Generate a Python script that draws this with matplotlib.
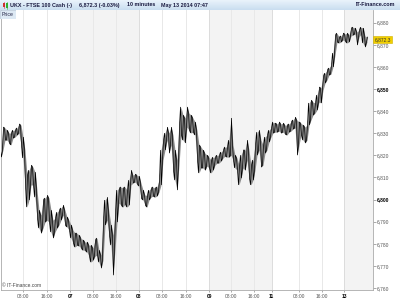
import numpy as np
import matplotlib
matplotlib.use("Agg")
import matplotlib.pyplot as plt
from matplotlib.patches import Rectangle

# ~40-minute bars (high / low)
highs = [6822.4, 6832.8, 6832.4, 6831.4, 6830.1, 6830.1, 6831.4, 6831.4, 6832.4, 6834.2,
         6833.7, 6828.3, 6822.4, 6811.1, 6813.3, 6815.6, 6814.7, 6812.4, 6804.3, 6795.2,
         6793.0, 6799.8, 6800.7, 6802.0, 6800.7, 6795.2, 6790.7, 6791.6, 6794.3, 6795.2,
         6796.2, 6797.5, 6795.2, 6792.1, 6790.7, 6788.5, 6786.2, 6784.8, 6784.8, 6783.9,
         6782.6, 6781.7, 6780.8, 6780.8, 6779.4, 6779.4, 6778.1, 6781.7, 6782.6, 6777.1,
         6774.9, 6790.7, 6799.8, 6801.1, 6794.3, 6788.5, 6783.9, 6793.9, 6804.3, 6805.2,
         6805.7, 6805.2, 6805.7, 6804.3, 6808.8, 6813.3, 6811.1, 6811.5, 6811.1, 6810.6,
         6807.5, 6804.3, 6802.0, 6802.0, 6804.3, 6805.2, 6805.7, 6805.2, 6805.7, 6808.8,
         6822.4, 6826.9, 6830.1, 6832.8, 6830.1, 6832.8, 6829.2, 6822.4, 6817.9, 6833.7,
         6841.9, 6838.2, 6836.9, 6841.9, 6839.1, 6838.2, 6836.9, 6835.1, 6831.4, 6824.7,
         6823.8, 6822.4, 6821.0, 6820.1, 6819.2, 6817.9, 6819.2, 6819.2, 6820.1, 6820.1,
         6821.5, 6822.4, 6823.8, 6823.8, 6826.9, 6836.9, 6824.7, 6820.1, 6818.8, 6815.6,
         6820.1, 6822.4, 6822.4, 6826.9, 6822.4, 6815.6, 6817.9, 6824.7, 6830.5, 6831.4,
         6826.9, 6824.7, 6828.3, 6829.2, 6831.4, 6832.4, 6835.1, 6834.6, 6834.2, 6835.1,
         6834.2, 6834.6, 6833.7, 6833.7, 6834.2, 6835.1, 6836.0, 6837.3, 6836.0, 6835.1,
         6834.6, 6833.7, 6832.8, 6833.7, 6843.7, 6845.0, 6844.1, 6843.7, 6847.3, 6850.9,
         6850.5, 6855.9, 6857.2, 6858.6, 6859.5, 6860.9, 6866.3, 6874.4, 6875.3, 6873.5,
         6874.0, 6875.3, 6874.9, 6875.3, 6874.4, 6877.6, 6878.0, 6877.6, 6875.8, 6876.7,
         6878.0, 6877.6, 6874.0, 6873.5]
lows = [6819.2, 6822.4, 6826.9, 6826.9, 6825.6, 6824.7, 6827.8, 6828.3, 6829.2, 6830.1,
        6824.7, 6818.8, 6806.6, 6796.6, 6799.8, 6806.6, 6806.6, 6801.1, 6791.6, 6787.1,
        6784.8, 6787.1, 6789.8, 6790.7, 6789.8, 6785.3, 6782.6, 6785.3, 6787.1, 6788.5,
        6790.7, 6793.0, 6788.5, 6787.6, 6786.2, 6782.6, 6780.3, 6778.5, 6779.4, 6779.0,
        6778.1, 6777.1, 6777.1, 6776.2, 6774.4, 6771.7, 6772.6, 6774.4, 6774.9, 6771.7,
        6769.0, 6772.6, 6788.5, 6790.7, 6783.9, 6779.4, 6765.8, 6777.1, 6789.8, 6798.4,
        6797.5, 6796.6, 6798.0, 6796.6, 6797.5, 6806.6, 6807.5, 6807.9, 6807.0, 6806.1,
        6800.7, 6799.8, 6797.5, 6796.6, 6799.8, 6801.1, 6801.6, 6801.1, 6801.6, 6803.4,
        6806.6, 6817.9, 6822.4, 6826.9, 6821.0, 6824.7, 6813.3, 6808.8, 6804.3, 6815.6,
        6829.2, 6826.9, 6825.6, 6832.8, 6831.4, 6830.1, 6830.5, 6829.2, 6817.9, 6812.0,
        6814.3, 6814.3, 6813.3, 6815.2, 6814.3, 6812.0, 6813.3, 6815.6, 6816.5, 6816.5,
        6817.4, 6818.8, 6819.7, 6819.2, 6819.2, 6820.1, 6817.9, 6814.3, 6813.3, 6806.6,
        6809.7, 6814.3, 6813.3, 6817.9, 6809.7, 6806.6, 6808.8, 6813.3, 6820.1, 6822.4,
        6814.7, 6815.6, 6821.0, 6822.4, 6826.0, 6828.3, 6830.1, 6830.5, 6830.5, 6831.0,
        6830.1, 6830.5, 6829.6, 6829.2, 6830.5, 6831.0, 6831.9, 6832.4, 6820.1, 6824.7,
        6829.2, 6826.9, 6825.6, 6826.9, 6833.7, 6836.0, 6838.2, 6839.1, 6840.5, 6844.1,
        6843.7, 6849.5, 6852.7, 6854.1, 6856.3, 6856.8, 6860.0, 6865.4, 6871.3, 6870.8,
        6871.3, 6872.2, 6871.7, 6870.8, 6871.3, 6874.0, 6874.4, 6874.9, 6869.9, 6873.5,
        6874.9, 6870.8, 6869.0, 6871.3]
last_price = 6872.3
price_ticks = list(range(6760, 6881, 10))
bold_prices = [6800, 6850]
time_tick_pos = [10.85, 22.85, 34.5, 46.0, 57.5, 68.85, 80.5, 92.35, 104.15, 115.0,
                 126.5, 135.35, 149.0, 160.35, 171.65]
time_tick_labels = ["08:00", "16:00", "07", "08:00", "16:00", "08", "08:00", "16:00",
                    "09", "08:00", "16:00", "11", "08:00", "16:00", "13"]
day_names = ["07", "08", "09", "11", "13"]
shaded_spans = [(34.5, 68.85), (104.15, 135.35), (171.65, 187.0)]
title_parts = ["UKX - FTSE 100 Cash (-)", "6,872.3 (-0.03%)", "10 minutes", "May 13 2014 07:47"]

plt.rcParams['font.family'] = ['Liberation Sans', 'DejaVu Sans']
W, H = 400, 300
fig = plt.figure(figsize=(4, 3), dpi=100)
fig.patch.set_facecolor('white')

ax = fig.add_axes([1 / W, 10 / H, 372 / W, 280 / H])
x = np.arange(len(highs))
ax.set_xlim(0, 186)
ax.set_ylim(6759.1, 6885.75)

for a, b in shaded_spans:
    ax.axvspan(a, b, color='#f3f3f3', lw=0, zorder=0)
for p, lab in zip(time_tick_pos, time_tick_labels):
    ax.axvline(p, color='#dcdcdc' if lab in day_names else '#e8e8e8', lw=0.7, zorder=1)

hi = np.array(highs)
lo = np.array(lows)
ax.fill_between(x, lo, hi, color='#8c8c8c', lw=0, zorder=2)
# zigzag through each bar's range
zx = np.ravel(np.column_stack([x - 0.25, x + 0.25]))
zy = np.ravel(np.column_stack([np.where(x % 2 == 0, hi, lo), np.where(x % 2 == 0, lo, hi)]))
ax.plot(zx, zy, color='black', lw=0.5, zorder=3, solid_joinstyle='miter')

ax.yaxis.tick_right()
ax.set_yticks(price_ticks)
ax.set_yticklabels([f"{v:,}" for v in price_ticks])
for lbl, v in zip(ax.get_yticklabels(), price_ticks):
    if v in bold_prices:
        lbl.set_fontweight('bold')
        lbl.set_color('black')
    else:
        lbl.set_color('#555555')
ax.tick_params(axis='y', direction='out', length=2, width=0.5, color='#888888',
               labelsize=3.5, pad=0.8)

ax.set_xticks(time_tick_pos)
ax.set_xticklabels(time_tick_labels)
for lbl, t in zip(ax.get_xticklabels(), time_tick_labels):
    if t in day_names:
        lbl.set_fontweight('bold')
        lbl.set_color('black')
    else:
        lbl.set_color('#555555')
ax.tick_params(axis='x', direction='out', length=1.5, width=0.5, color='#888888',
               labelsize=3.5, pad=1.2)

ax.spines['top'].set_visible(False)
for s in ['left', 'right', 'bottom']:
    ax.spines[s].set_color('#aaaaaa')
    ax.spines[s].set_linewidth(0.6)

ax.text(0.004, 0.006, "\u00a9 IT-Finance.com", transform=ax.transAxes, fontsize=3.5,
        color='#444444', ha='left', va='bottom')

# last price label
ax.annotate(f"{last_price:,.1f}", xy=(1.0, last_price), xycoords=('axes fraction', 'data'),
            xytext=(1.2, 0), textcoords='offset points', fontsize=3.5, color='#333333',
            ha='left', va='center',
            bbox=dict(boxstyle='square,pad=0.25', fc='#f2d000', ec='#d0b000', lw=0.4),
            annotation_clip=False)

# header
hax = fig.add_axes([0, 1 - 10 / H, 1, 10 / H])
grad = np.linspace(0, 1, 50).reshape(-1, 1)
hax.imshow(grad, aspect='auto', extent=(0, W, 0, 10),
           cmap=matplotlib.colors.LinearSegmentedColormap.from_list('h', ['#eaf3fb', '#c9def0']),
           origin='upper')
hax.set_xlim(0, W)
hax.set_ylim(0, 10)
hax.axis('off')
hax.add_patch(Rectangle((2.5, 3), 2.2, 4, color='#d03030', lw=0))
hax.add_patch(Rectangle((5.5, 2.5), 2.2, 5, color='#30b030', lw=0))
hax.plot([3.6, 3.6], [2, 8], color='#d03030', lw=0.4)
hax.plot([6.6, 6.6], [1.5, 8.5], color='#30b030', lw=0.4)
xs = [10.5, 79, 127, 161]
for xx, t in zip(xs, title_parts):
    hax.text(xx, 5, t, fontsize=3.85, fontweight='bold', color='#1a1a40', ha='left', va='center')
hax.text(395, 5, "IT-Finance.com", fontsize=3.85, fontweight='bold', color='#1a1a40',
         ha='right', va='center')

# "Price" tab
pax = fig.add_axes([0, 1 - 19 / H, 16 / W, 9 / H])
pax.set_xlim(0, 16)
pax.set_ylim(0, 9)
pax.add_patch(Rectangle((0, 0), 16, 9, fc='#dde9f4', ec='#b8c8d8', lw=0.5))
pax.text(1.2, 4.5, "Price", fontsize=3.7, color='#222244', ha='left', va='center')
pax.axis('off')

fig.savefig("out.png", dpi=100)
